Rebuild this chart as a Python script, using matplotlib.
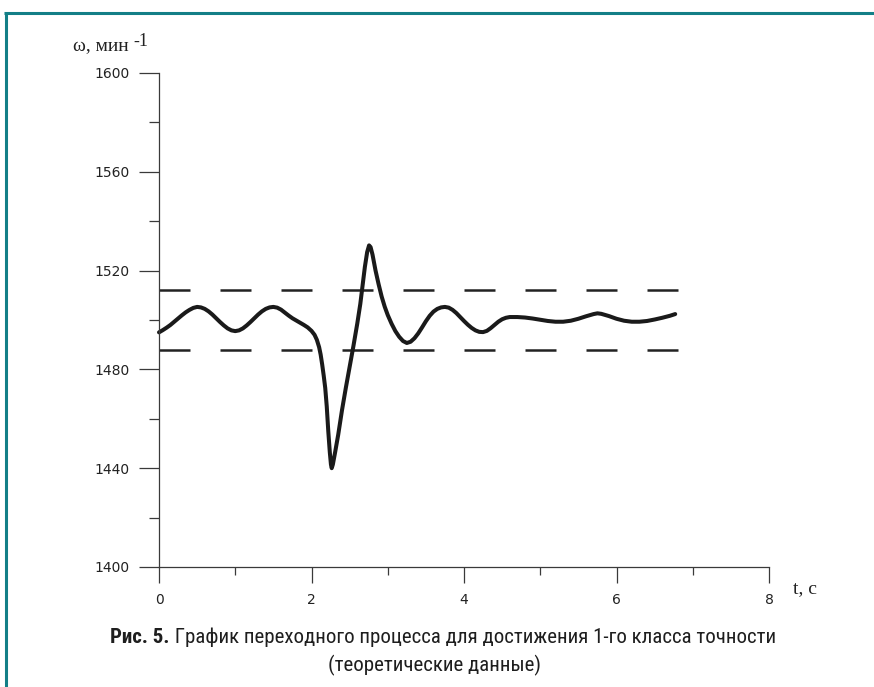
import matplotlib
matplotlib.use("Agg")
import matplotlib.pyplot as plt
from matplotlib.lines import Line2D
from matplotlib import font_manager as fm

# ---- data ----
t_values = [0.00, 0.05, 0.10, 0.15, 0.20, 0.25, 0.30, 0.35, 0.40, 0.45,
            0.50, 0.55, 0.60, 0.65, 0.70, 0.75, 0.80, 0.85, 0.90, 0.95,
            1.00, 1.05, 1.10, 1.15, 1.20, 1.25, 1.30, 1.35, 1.40, 1.45,
            1.50, 1.55, 1.60, 1.65, 1.70, 1.75, 1.80, 1.85, 1.90, 1.95,
            2.00, 2.04, 2.07, 2.10, 2.12, 2.14, 2.16, 2.18, 2.20, 2.22,
            2.24, 2.255, 2.265, 2.28, 2.31, 2.35, 2.40, 2.45, 2.50, 2.55,
            2.60, 2.64, 2.67, 2.70, 2.73, 2.755, 2.775, 2.80, 2.84, 2.88,
            2.92, 2.96, 3.00, 3.05, 3.10, 3.15, 3.20, 3.25, 3.30, 3.35,
            3.40, 3.45, 3.50, 3.55, 3.60, 3.65, 3.70, 3.75, 3.80, 3.85,
            3.90, 3.95, 4.00, 4.05, 4.10, 4.15, 4.20, 4.25, 4.30, 4.35,
            4.40, 4.45, 4.50, 4.55, 4.60, 4.70, 4.80, 4.90, 5.00, 5.10,
            5.20, 5.30, 5.40, 5.50, 5.60, 5.70, 5.75, 5.80, 5.90, 6.00,
            6.10, 6.20, 6.30, 6.40, 6.50, 6.60, 6.70, 6.77]
omega_values = [1495.0, 1495.9, 1496.9, 1498.0, 1499.3, 1500.6, 1501.9, 1503.1, 1504.1, 1504.9,
                1505.3, 1505.1, 1504.5, 1503.5, 1502.2, 1500.7, 1499.2, 1497.8, 1496.6, 1495.8,
                1495.5, 1495.8, 1496.6, 1497.8, 1499.2, 1500.7, 1502.2, 1503.5, 1504.5, 1505.1,
                1505.3, 1505.0, 1504.2, 1503.0, 1501.8, 1500.7, 1499.8, 1498.9, 1498.0, 1497.0,
                1495.6, 1494.0, 1492.0, 1489.0, 1486.0, 1482.0, 1477.5, 1472.5, 1465.0, 1455.0,
                1446.5, 1441.5, 1440.0, 1441.5, 1446.5, 1453.5, 1463.5, 1472.5, 1481.0, 1489.5,
                1498.5, 1506.5, 1514.0, 1521.5, 1527.5, 1530.2, 1529.5, 1526.5, 1520.0, 1514.5,
                1509.5, 1505.4, 1502.0, 1498.5, 1495.5, 1493.2, 1491.5, 1490.7, 1491.2, 1492.6,
                1494.6, 1497.0, 1499.5, 1501.7, 1503.4, 1504.5, 1505.1, 1505.3, 1505.0, 1504.1,
                1502.8, 1501.2, 1499.6, 1498.1, 1496.8, 1495.8, 1495.2, 1495.1, 1495.6, 1496.7,
                1498.0, 1499.3, 1500.3, 1500.9, 1501.2, 1501.2, 1501.0, 1500.6, 1500.1, 1499.6,
                1499.3, 1499.3, 1499.7, 1500.5, 1501.5, 1502.4, 1502.7, 1502.5, 1501.6, 1500.5,
                1499.7, 1499.3, 1499.3, 1499.6, 1500.2, 1500.9, 1501.7, 1502.4]
band_levels = [1512, 1488]
band_t = [0, 6.82]
x_major = [0, 2, 4, 6, 8]
x_minor = [1, 3, 5, 7]
y_major = [1400, 1440, 1480, 1520, 1560, 1600]
y_minor = [1420, 1460, 1500, 1540, 1580]
y_label = "ω, мин"
y_label_sup = "-1"
x_label = "t, c"
caption_bold = "Рис. 5."
caption_rest = " График переходного процесса для достижения 1-го класса точности"
caption_line2 = "(теоретические данные)"

W, H = 874, 687
fig = plt.figure(figsize=(W / 100, H / 100), dpi=100)
fig.patch.set_facecolor("white")

def fx(px):
    return px / W

def fy(py):
    return 1 - py / H

ax = fig.add_axes([fx(159), fy(567), (769 - 159) / W, (567 - 73) / H])
ax.set_xlim(0, 8)
ax.set_ylim(1400, 1600)
ax.patch.set_alpha(0)

for s in ("top", "right"):
    ax.spines[s].set_visible(False)
spcol = "#3a3a3a"
for s in ("left", "bottom"):
    ax.spines[s].set_color(spcol)
    ax.spines[s].set_linewidth(0.9)

ax.set_xticks(x_major)
ax.set_xticks(x_minor, minor=True)
ax.set_yticks(y_major)
ax.set_yticks(y_minor, minor=True)
ax.tick_params(axis="both", which="both", direction="out", color=spcol, width=0.9,
               labelcolor="#222222", labelsize=10)
ax.tick_params(axis="y", which="major", length=14.4, pad=7)
ax.tick_params(axis="y", which="minor", length=7.2)
ax.tick_params(axis="x", which="major", length=11.5, pad=7)
ax.tick_params(axis="x", which="minor", length=5.8)
for lab in ax.get_xticklabels() + ax.get_yticklabels():
    lab.set_family("DejaVu Sans")

for lvl in band_levels:
    ax.plot(band_t, [lvl, lvl], color="#222222", lw=1.8, dashes=(12.4, 12.0),
            solid_capstyle="butt", dash_capstyle="butt")

ax.plot(t_values, omega_values, color="#1a1a1a", lw=2.9,
        solid_capstyle="round", solid_joinstyle="round", clip_on=False)

serif = ["Liberation Serif", "DejaVu Serif"]
fig.text(fx(73), fy(51), y_label, family=serif, fontsize=14, color="#222222",
         ha="left", va="baseline")
fig.text(fx(133), fy(46), y_label_sup, family=serif, fontsize=13, color="#222222",
         ha="left", va="baseline")
fig.text(fx(793), fy(593), x_label, family=serif, fontsize=14, color="#222222",
         ha="left", va="baseline")

# caption font
def have(name):
    try:
        fm.findfont(fm.FontProperties(family=name), fallback_to_default=False)
        return True
    except Exception:
        return False

cap_family = None
for cand in ["Liberation Sans Narrow", "Roboto Condensed", "Open Sans Condensed",
             "Noto Sans Display", "Liberation Sans"]:
    if have(cand):
        cap_family = cand
        break
cap_fam = [cap_family, "DejaVu Sans"] if cap_family else ["DejaVu Sans"]
cap_size = 15
cap_col = "#1e1e1e"

fig.canvas.draw()
renderer = fig.canvas.get_renderer()
tb = fig.text(0, fy(643), caption_bold, family=cap_fam, fontweight="bold",
              fontsize=cap_size, color=cap_col, ha="left", va="baseline")
tr = fig.text(0, fy(643), caption_rest, family=cap_fam, fontsize=cap_size,
              color=cap_col, ha="left", va="baseline")
wb = tb.get_window_extent(renderer).width
wr = tr.get_window_extent(renderer).width
total = wb + wr
start = 443 - total / 2
tb.set_x(fx(start))
tr.set_x(fx(start + wb))
fig.text(fx(434), fy(671), caption_line2, family=cap_fam, fontsize=cap_size,
         color=cap_col, ha="center", va="baseline")

# teal frame
teal = "#137f87"
fig.add_artist(Line2D([fx(4), 1.0], [fy(13), fy(13)], transform=fig.transFigure,
                      color=teal, lw=2.2, solid_capstyle="butt"))
fig.add_artist(Line2D([fx(5.5), fx(5.5)], [fy(11.8), 0.0], transform=fig.transFigure,
                      color=teal, lw=2.2, solid_capstyle="butt"))

fig.savefig("out.png", dpi=100, facecolor="white")
